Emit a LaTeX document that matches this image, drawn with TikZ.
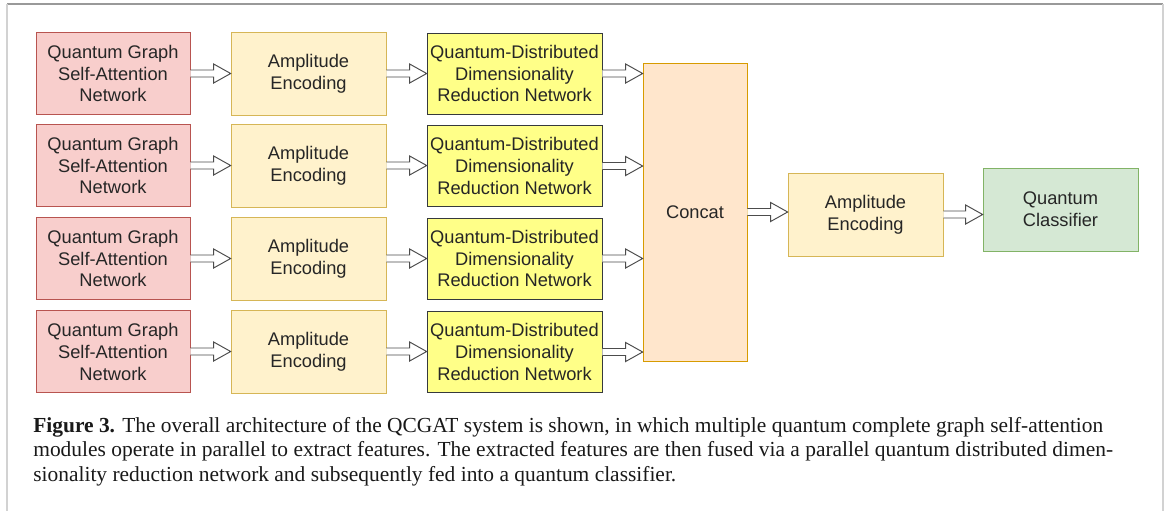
\documentclass[tikz,border=0pt]{standalone}
\usepackage{fontspec}
\setmainfont{Liberation Serif}
\newfontfamily\boxfont{Liberation Sans}
\usepackage{tikz}
\usetikzlibrary{calc}

\definecolor{redfill}{HTML}{F8CECC}
\definecolor{redline}{HTML}{B85450}
\definecolor{ampfill}{HTML}{FFF2CC}
\definecolor{ampline}{HTML}{D6B656}
\definecolor{qdfill}{HTML}{FFFF88}
\definecolor{qdline}{HTML}{36393D}
\definecolor{catfill}{HTML}{FFE6CC}
\definecolor{catline}{HTML}{D79B00}
\definecolor{clsfill}{HTML}{D5E8D4}
\definecolor{clsline}{HTML}{82B366}

\tikzset{
  block/.style={draw, thin, align=center, inner sep=0pt, text=black!85,
    font=\boxfont\fontsize{10.4}{12.5}\selectfont},
  gatbox/.style={block, fill=redfill, draw=redline, minimum width=154*0.02cm, minimum height=82*0.02cm},
  ampbox/.style={block, fill=ampfill, draw=ampline, minimum width=155*0.02cm, minimum height=83*0.02cm},
  qdbox/.style={block, fill=qdfill, draw=qdline, minimum width=175*0.02cm, minimum height=81*0.02cm},
  catbox/.style={block, fill=catfill, draw=catline, minimum width=104*0.02cm, minimum height=298*0.02cm},
  clsbox/.style={block, fill=clsfill, draw=clsline, minimum width=155*0.02cm, minimum height=83*0.02cm},
  fatarrow/.style={draw=black!70, fill=white, line width=0.55pt, line join=miter},
}

% hollow block arrow from the east side of #1 to the west side of #2
\newcommand{\fatarrow}[2]{%
  \draw[fatarrow] ($(#1.east)+(0,3.5)$) -- ($(#1.east -| #2.west)+(-17,3.5)$)
    -- ($(#1.east -| #2.west)+(-17,9.5)$) -- (#1.east -| #2.west)
    -- ($(#1.east -| #2.west)+(-17,-9.5)$) -- ($(#1.east -| #2.west)+(-17,-3.5)$)
    -- ($(#1.east)+(0,-3.5)$);}

\begin{document}
\begin{tikzpicture}[x=0.02cm, y=-0.02cm]
    \useasboundingbox (0,0) rectangle (1167,511);

    % page frame
    \draw[gray!80, line width=0.8pt] (7,4) -- (1163,4);
    \draw[gray!35, line width=1pt] (7,4) -- (7,511);
    \draw[gray!35, line width=1pt] (1163,4) -- (1163,511);

    % self-attention networks
    \node[gatbox] (gat1) at (113,73.5) {Quantum Graph\\Self-Attention\\Network};
    \node[gatbox] (gat2) at (113,165.5) {Quantum Graph\\Self-Attention\\Network};
    \node[gatbox] (gat3) at (113,258.5) {Quantum Graph\\Self-Attention\\Network};
    \node[gatbox] (gat4) at (113,351.5) {Quantum Graph\\Self-Attention\\Network};

    % amplitude encodings
    \node[ampbox] (amp1) at (308.5,73.5) {Amplitude\\Encoding};
    \node[ampbox] (amp2) at (308.5,165.5) {Amplitude\\Encoding};
    \node[ampbox] (amp3) at (308.5,258.5) {Amplitude\\Encoding};
    \node[ampbox] (amp4) at (308.5,351.5) {Amplitude\\Encoding};

    % dimensionality reduction
    \node[qdbox] (qd1) at (514.5,73.5) {Quantum-Distributed\\Dimensionality\\Reduction Network};
    \node[qdbox] (qd2) at (514.5,166) {Quantum-Distributed\\Dimensionality\\Reduction Network};
    \node[qdbox] (qd3) at (514.5,258.5) {Quantum-Distributed\\Dimensionality\\Reduction Network};
    \node[qdbox] (qd4) at (514.5,352) {Quantum-Distributed\\Dimensionality\\Reduction Network};

    % fusion and classification
    \node[catbox] (concat) at (695,212) {Concat};
    \node[ampbox] (ampout) at (865.5,214.5) {Amplitude\\Encoding};
    \node[clsbox] (cls) at (1060.5,209.5) {Quantum\\Classifier};

    % arrows
    \fatarrow{gat1}{amp1} \fatarrow{amp1}{qd1} \fatarrow{qd1}{concat}
    \fatarrow{gat2}{amp2} \fatarrow{amp2}{qd2} \fatarrow{qd2}{concat}
    \fatarrow{gat3}{amp3} \fatarrow{amp3}{qd3} \fatarrow{qd3}{concat}
    \fatarrow{gat4}{amp4} \fatarrow{amp4}{qd4} \fatarrow{qd4}{concat}
    \fatarrow{concat}{ampout}
    \fatarrow{ampout}{cls}

    % caption
    \node[anchor=north west, inner sep=0pt, align=left, text=black!90,
      font=\fontsize{12.2}{13.9}\selectfont] (caption) at (33,417)
      {\textbf{Figure 3.} The overall architecture of the QCGAT system is shown, in which multiple quantum complete graph self-attention\\
       modules operate in parallel to extract features. The extracted features are then fused via a parallel quantum distributed dimen-\\
       sionality reduction network and subsequently fed into a quantum classifier.};

\end{tikzpicture}
\end{document}
